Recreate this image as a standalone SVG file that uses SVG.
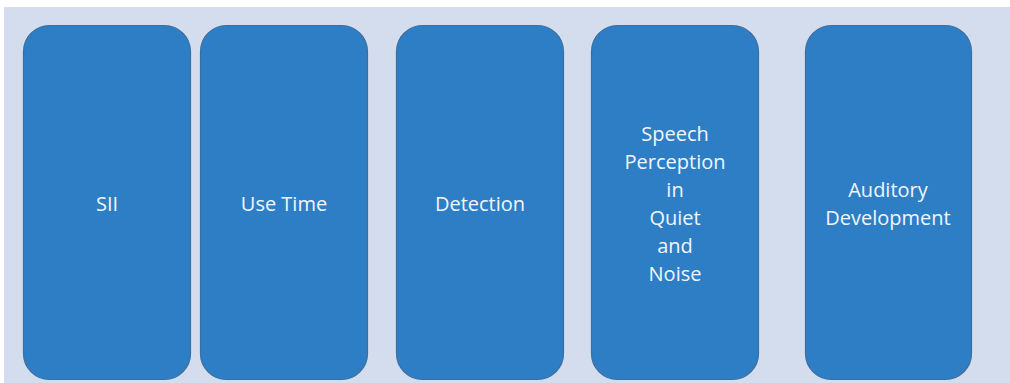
<svg xmlns="http://www.w3.org/2000/svg" width="1010" height="383" viewBox="0 0 1010 383">
<style>
.box{fill:#2E7EC6;stroke:#3E6E9C;stroke-width:1.2}
.t{font-family:"Open Sans","Liberation Sans",sans-serif;font-size:20px;fill:#F2F6FB;text-anchor:middle;dominant-baseline:central}
</style>
<rect x="0" y="0" width="1010" height="383" fill="#FFFFFF"/>
<rect x="4" y="7" width="1006" height="376" fill="#D3DDEE"/>
<g id="node-sii"><rect class="box" x="23.5" y="25.5" width="167" height="354" rx="26"/><text class="t" x="107" y="203">SII</text></g>
<g id="node-usetime"><rect class="box" x="200.5" y="25.5" width="167" height="354" rx="26"/><text class="t" x="284" y="203">Use Time</text></g>
<g id="node-detection"><rect class="box" x="396.5" y="25.5" width="167" height="354" rx="26"/><text class="t" x="480" y="203">Detection</text></g>
<g id="node-speech"><rect class="box" x="591.5" y="25.5" width="167" height="354" rx="26"/><text class="t" x="675"><tspan x="675" y="133">Speech</tspan><tspan x="675" y="161">Perception</tspan><tspan x="675" y="189">in</tspan><tspan x="675" y="217">Quiet</tspan><tspan x="675" y="245">and</tspan><tspan x="675" y="273">Noise</tspan></text></g>
<g id="node-auditory"><rect class="box" x="805.5" y="25.5" width="166" height="354" rx="26"/><text class="t" x="888"><tspan x="888" y="189">Auditory</tspan><tspan x="888" y="217">Development</tspan></text></g>
<g id="connectors"></g>
</svg>
